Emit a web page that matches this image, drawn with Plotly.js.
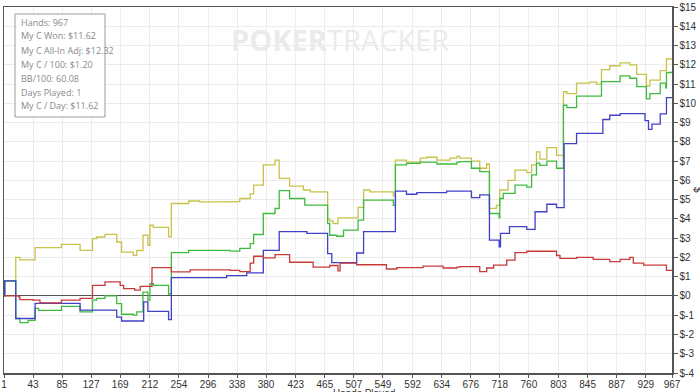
<!DOCTYPE html>
<html><head><meta charset="utf-8">
<script src="https://cdn.plot.ly/plotly-3.0.1.min.js"></script>
<style>html,body{margin:0;padding:0;background:#fff}#chart{width:700px;height:392px}</style>
</head><body><div id="chart"></div>
<script>
// Yellow: All-In Adjusted winnings
const yellowHands = [1,2,18,24,46,84,111,129,135,147,164,171,188,193,202,209,212,217,239,243,268,284,328,342,357,362,376,393,399,414,434,444,469,472,477,484,513,521,530,564,567,583,603,612,627,646,656,660,677,689,699,703,713,718,730,740,757,764,771,776,786,800,810,815,829,848,858,865,877,892,906,916,930,935,950,959,967];
const yellowVals  = [0,0.78,2.0,1.87,2.51,2.68,2.37,2.98,3.06,3.2,2.8,2.28,2.11,2.36,3.15,2.63,3.67,3.56,3.07,4.8,4.93,4.88,4.9,5.06,5.3,5.75,6.8,7.05,6.1,5.7,5.5,5.4,4.0,3.9,3.76,4.05,4.6,5.5,5.4,5.2,7.05,6.95,7.15,7.2,7.05,7.15,7.25,7.15,7.0,6.63,6.85,4.55,4.7,5.5,6.0,6.53,6.4,6.8,7.48,7.1,7.7,7.3,10.6,10.5,11.05,11.1,11.0,11.75,11.95,12.1,12.0,11.5,10.9,11.2,11.7,12.3,12.3];
// Green: Won
const greenHands = [1,2,18,24,36,46,51,84,111,129,135,147,164,171,188,193,202,209,212,217,239,243,268,328,342,357,362,376,393,399,414,436,469,472,482,492,513,521,564,567,583,603,627,656,660,677,689,703,717,718,723,740,757,764,771,776,786,800,810,815,829,865,892,906,916,930,935,950,958,959,967];
const greenVals  = [0,0.78,-1.17,-1.38,-1.27,-0.65,-0.75,-0.54,-0.83,-0.22,-0.13,0,-0.4,-0.95,-1.0,-0.83,0.2,-0.22,0.64,0.55,0.1,2.25,2.37,2.33,2.47,2.72,3.19,4.28,4.54,5.47,5.06,4.72,3.76,3.15,3.1,3.42,3.94,4.97,4.7,6.8,6.88,6.95,6.85,6.95,6.97,6.63,6.45,4.28,4.06,5.06,5.32,5.75,5.65,6.28,6.9,6.78,7.0,6.63,9.9,9.78,10.37,11.13,11.42,11.3,10.87,10.23,10.5,11.05,10.8,11.6,11.6];
// Blue: Showdown winnings
const blueHands = [1,2,18,46,111,164,171,203,209,239,243,323,352,376,399,439,469,475,511,521,567,583,598,641,677,689,703,717,719,732,757,769,786,800,811,829,867,877,892,928,933,938,950,959,967];
const blueVals  = [0,0.78,-1.17,-0.39,-0.74,-1.1,-1.3,-0.31,-0.8,-1.23,0.95,1.05,1.2,2.37,3.34,3.25,2.2,1.73,2.23,3.34,5.44,5.28,5.36,5.44,5.1,5.25,2.9,2.55,3.25,3.6,3.46,4.37,4.76,4.58,7.91,8.44,9.16,9.38,9.47,9.1,8.65,8.92,9.45,10.3,10.3];
// Red: Non-showdown winnings
const redHands = [1,22,24,43,53,84,111,129,147,169,174,190,198,215,243,270,328,342,357,362,376,393,414,448,472,484,487,511,554,569,607,636,656,660,689,699,709,728,740,757,800,805,829,853,877,892,906,911,926,959,967];
const redVals  = [0,-0.05,-0.19,-0.22,-0.36,-0.22,-0.13,0.55,0.73,0.55,0.38,0.3,0.5,1.47,1.25,1.35,1.33,1.26,1.7,2.06,1.98,2.15,1.75,1.5,1.58,1.3,1.7,1.62,1.4,1.47,1.55,1.45,1.5,1.52,1.26,1.45,1.6,1.86,2.25,2.32,2.1,1.95,2.0,1.9,1.78,1.9,2.0,1.7,1.6,1.33,1.33];

const xTicks = [1,43,85,127,169,212,254,296,338,380,423,465,507,549,592,634,676,718,760,803,845,887,929,967];
const yTicks = [-4,-3,-2,-1,0,1,2,3,4,5,6,7,8,9,10,11,12,13,14,15];
const yTickText = yTicks.map(v => '$' + v);
const statLines = ['Hands: 967','My C Won: $11.62','My C All-In Adj: $12.32','My C / 100: $1.20','BB/100: 60.08','Days Played: 1','My C / Day: $11.62'];

function tr(x, y, color) {
  return {x: x, y: y, type: 'scatter', mode: 'lines', line: {color: color, width: 1.3, shape: 'hv'}, hoverinfo: 'skip', showlegend: false};
}
const data = [
  tr(yellowHands, yellowVals, '#c8c24a'),
  tr(greenHands, greenVals, '#3fba3f'),
  tr(blueHands, blueVals, '#4040c8'),
  tr(redHands, redVals, '#c83a3a')
];

const W = 700, H = 392, mL = 4, mR = 28, mT = 7, mB = 19;
const pw = W - mL - mR, ph = H - mT - mB;
function px2paperX(p) { return (p - mL) / pw; }
function px2paperY(p) { return 1 - (p - mT) / ph; }

const annotations = statLines.map((t, i) => ({
  xref: 'paper', yref: 'paper', x: px2paperX(19), y: px2paperY(22 + i * 14),
  xanchor: 'left', yanchor: 'middle', showarrow: false, text: t,
  font: {family: 'Open Sans, sans-serif', size: 9, color: '#8a8a8a'}
}));
annotations.push({
  xref: 'paper', yref: 'paper', x: px2paperX(340), y: px2paperY(40),
  xanchor: 'center', yanchor: 'middle', showarrow: false,
  text: '<b>POKER</b>TRACKER',
  font: {family: 'Open Sans, sans-serif', size: 29, color: '#ebebeb'}
});
annotations.push({
  xref: 'paper', yref: 'paper', x: px2paperX(364), y: px2paperY(386),
  xanchor: 'center', yanchor: 'top', showarrow: false,
  text: 'Hands Played', font: {family: 'Liberation Sans, Arial, sans-serif', size: 10, color: '#333'}
});
annotations.push({
  xref: 'paper', yref: 'paper', x: px2paperX(698), y: px2paperY(190),
  xanchor: 'center', yanchor: 'middle', showarrow: false, textangle: 90,
  text: '$', font: {family: 'Liberation Sans, Arial, sans-serif', size: 10, color: '#333'}
});

const layout = {
  width: W, height: H,
  margin: {l: mL, r: mR, t: mT, b: mB, pad: 0},
  paper_bgcolor: '#fff', plot_bgcolor: '#fff',
  font: {family: 'Liberation Sans, Arial, sans-serif', size: 10, color: '#333'},
  xaxis: {
    range: [1, 967], tickvals: xTicks, ticktext: xTicks.map(String),
    showgrid: true, gridcolor: '#ececec', gridwidth: 1,
    showline: true, linecolor: '#555', linewidth: 1.5, mirror: true,
    ticks: 'outside', ticklen: 3, tickcolor: '#555', zeroline: false,
    ticklabelstandoff: -2,
    tickfont: {size: 10, color: '#333'}
  },
  yaxis: {
    range: [-4, 15], side: 'right', tickvals: yTicks, ticktext: yTickText,
    showgrid: true, gridcolor: '#ececec', gridwidth: 1,
    showline: true, linecolor: '#555', linewidth: 1.5, mirror: true,
    ticks: 'outside', ticklen: 4, tickcolor: '#555',
    zeroline: true, zerolinecolor: '#555', zerolinewidth: 1,
    tickfont: {size: 10, color: '#333'}
  },
  shapes: [{
    type: 'rect', xref: 'paper', yref: 'paper',
    x0: px2paperX(15), x1: px2paperX(105), y0: px2paperY(14), y1: px2paperY(117),
    line: {color: '#9a9a9a', width: 1}, fillcolor: '#fff', layer: 'above'
  }],
  annotations: annotations
};
Plotly.newPlot('chart', data, layout, {staticPlot: true, displayModeBar: false});
</script></body></html>
